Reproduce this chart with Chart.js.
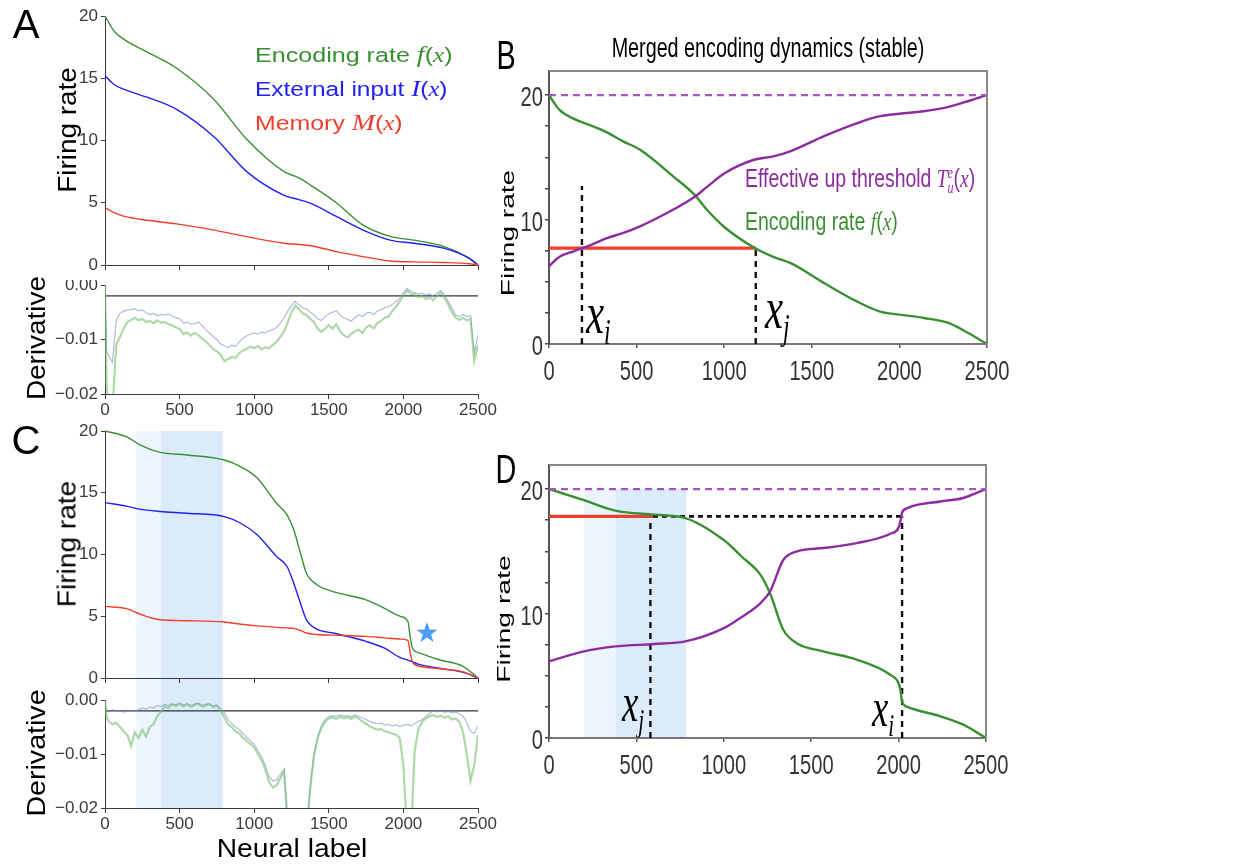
<!DOCTYPE html>
<html><head><meta charset="utf-8">
<script src="https://cdn.jsdelivr.net/npm/chart.js@4.4.1/dist/chart.umd.min.js"></script>
<style>
html,body{margin:0;padding:0;background:#fff;}
#wrap{position:relative;width:1257px;height:866px;overflow:hidden;font-family:"Liberation Sans",Arial,Helvetica,sans-serif;}
#wrap canvas{position:absolute;}
.t{position:absolute;white-space:nowrap;line-height:1;}
.m{font-family:"Liberation Serif","DejaVu Serif",serif;font-style:italic;}
</style></head>
<body><div id="wrap"></div>
<script>
// ---------------- DATA ----------------
const ticksX = [0, 500, 1000, 1500, 2000, 2500];

// Panel A (firing rates)
const aX      = [0, 60, 130, 300, 480, 730, 950, 1200, 1300, 1380, 1550, 1730, 1910, 2070, 2270, 2440, 2500];
const aEncode = [20, 18.8, 18.1, 17.0, 15.8, 13.3, 10.1, 7.5, 7.0, 6.4, 5.0, 3.2, 2.3, 2.0, 1.5, 0.55, 0];
const aInput  = [15.2, 14.5, 14.1, 13.4, 12.5, 10.3, 7.5, 5.6, 5.25, 4.95, 3.9, 2.8, 2.0, 1.75, 1.35, 0.55, 0];
const aMemory = [4.6, 4.2, 3.9, 3.57, 3.3, 2.8, 2.28, 1.75, 1.65, 1.55, 1.07, 0.67, 0.32, 0.25, 0.2, 0.1, 0];

// Derivative x positions
const dX = [0, 10, 25, 50, 75, 100, 125, 150, 175, 200, 225, 250, 275, 300, 325, 350, 375, 400, 425, 450, 475, 500,
  525, 550, 575, 600, 625, 650, 675, 700, 725, 750, 775, 800, 825, 850, 875, 900, 925, 950, 975, 1000,
  1025, 1050, 1075, 1100, 1125, 1150, 1175, 1200, 1225, 1250, 1275, 1300, 1325, 1350, 1375, 1400, 1425, 1450, 1475, 1500,
  1525, 1550, 1575, 1600, 1625, 1650, 1675, 1700, 1725, 1750, 1775, 1800, 1825, 1850, 1875, 1900, 1925, 1950, 1975, 2000,
  2025, 2050, 2075, 2100, 2125, 2150, 2175, 2200, 2225, 2250, 2275, 2300, 2325, 2350, 2375, 2400, 2425, 2450, 2475, 2500];
const aDerivInput = [0, -0.0120, -0.0130, -0.0142, -0.0065, -0.0052, -0.0048, -0.0046, -0.0045, -0.0044, -0.0047, -0.0046, -0.0051, -0.0054, -0.0052, -0.0056, -0.0054, -0.0055, -0.0053, -0.0057, -0.0060, -0.0062,
  -0.0070, -0.0068, -0.0072, -0.0071, -0.0068, -0.0074, -0.0082, -0.0088, -0.0095, -0.0100, -0.0108, -0.0112, -0.0115, -0.0110, -0.0113, -0.0104, -0.0098, -0.0093, -0.0090, -0.0088,
  -0.0090, -0.0086, -0.0088, -0.0084, -0.0082, -0.0078, -0.0070, -0.0060, -0.0048, -0.0038, -0.0030, -0.0036, -0.0042, -0.0044, -0.0050, -0.0054, -0.0062, -0.0065, -0.0058, -0.0053,
  -0.0050, -0.0047, -0.0055, -0.0060, -0.0063, -0.0066, -0.0060, -0.0055, -0.0058, -0.0052, -0.0050, -0.0054, -0.0048, -0.0045, -0.0042, -0.0040, -0.0036, -0.0030, -0.0024, -0.0015,
  -0.0006, -0.0012, -0.0014, -0.0017, -0.0015, -0.0019, -0.0016, -0.0020, -0.0014, -0.0010, -0.0018, -0.0030, -0.0042, -0.0055, -0.0058, -0.0054, -0.0058, -0.0056, -0.0125, -0.0092];
const aDerivEncode = [0, -0.0180, -0.0230, -0.0230, -0.0110, -0.0095, -0.0080, -0.0068, -0.0064, -0.0060, -0.0065, -0.0062, -0.0068, -0.0066, -0.0070, -0.0065, -0.0069, -0.0068, -0.0072, -0.0074, -0.0078, -0.0080,
  -0.0090, -0.0087, -0.0093, -0.0088, -0.0092, -0.0098, -0.0104, -0.0110, -0.0117, -0.0122, -0.0128, -0.0140, -0.0136, -0.0132, -0.0134, -0.0125, -0.0120, -0.0117, -0.0113, -0.0116,
  -0.0112, -0.0118, -0.0114, -0.0116, -0.0110, -0.0104, -0.0095, -0.0085, -0.0068, -0.0050, -0.0038, -0.0044, -0.0052, -0.0055, -0.0062, -0.0068, -0.0080, -0.0086, -0.0080, -0.0074,
  -0.0080, -0.0072, -0.0085, -0.0092, -0.0096, -0.0090, -0.0085, -0.0082, -0.0088, -0.0078, -0.0074, -0.0080, -0.0070, -0.0066, -0.0060, -0.0058, -0.0048, -0.0040, -0.0030, -0.0020,
  -0.0010, -0.0016, -0.0018, -0.0022, -0.0020, -0.0026, -0.0022, -0.0028, -0.0020, -0.0014, -0.0024, -0.0036, -0.0050, -0.0060, -0.0064, -0.0060, -0.0065, -0.0062, -0.0140, -0.0110];
const derivRef = -0.002;

// Panel C (firing rates)
const cX      = [0, 150, 230, 370, 550, 800, 910, 1020, 1150, 1220, 1265, 1310, 1350, 1420, 1530, 1750, 1870, 1980, 2030, 2045, 2060, 2110, 2240, 2400, 2500];
const cEncode = [20, 19.5, 18.9, 18.27, 18.06, 17.65, 17.1, 16.2, 14.15, 13.2, 12.0, 10.1, 8.5, 7.55, 7.0, 6.33, 5.66, 4.99, 4.58, 3.4, 2.45, 2.02, 1.48, 0.94, 0];
const cInput  = [14.2, 13.9, 13.67, 13.48, 13.34, 13.07, 12.53, 11.6, 9.84, 9.03, 7.68, 6.06, 4.72, 3.95, 3.64, 2.96, 2.43, 1.65, 1.45, 1.38, 1.3, 1.08, 0.8, 0.45, 0];
const cMemory = [5.8, 5.6, 5.2, 4.72, 4.64, 4.53, 4.35, 4.22, 4.1, 4.06, 4.02, 3.85, 3.64, 3.52, 3.47, 3.37, 3.25, 3.15, 3.05, 2.1, 1.3, 0.95, 0.75, 0.5, 0];
const cDerivInput = [-0.0005, -0.0020, -0.0022, -0.0018, -0.0021, -0.0020, -0.0023, -0.0019, -0.0021, -0.0020, -0.0018, -0.0015, -0.0017, -0.0013, -0.0015, -0.0010, -0.0012, -0.0008, -0.0010, -0.0007, -0.0009, -0.0006,
  -0.0009, -0.0007, -0.0010, -0.0008, -0.0006, -0.0010, -0.0008, -0.0007, -0.0011, -0.0009, -0.0016, -0.0024, -0.0036, -0.0044, -0.0050, -0.0055, -0.0062, -0.0070, -0.0076, -0.0082,
  -0.0094, -0.0105, -0.0122, -0.0142, -0.0150, -0.0148, -0.0138, -0.0128, -0.0230, -0.0350, -0.0450, -0.0450, -0.0350, -0.0250, -0.0160, -0.0100, -0.0068, -0.0048, -0.0037, -0.0031,
  -0.0029, -0.0030, -0.0028, -0.0030, -0.0029, -0.0031, -0.0028, -0.0030, -0.0033, -0.0036, -0.0040, -0.0042, -0.0044, -0.0043, -0.0046, -0.0045, -0.0048, -0.0046, -0.0049, -0.0047,
  -0.0045, -0.0048, -0.0044, -0.0040, -0.0036, -0.0031, -0.0025, -0.0020, -0.0022, -0.0019, -0.0023, -0.0021, -0.0024, -0.0022, -0.0026, -0.0030, -0.0042, -0.0058, -0.0062, -0.0048];
const cDerivEncode = [0, -0.0030, -0.0040, -0.0045, -0.0042, -0.0050, -0.0058, -0.0065, -0.0085, -0.0060, -0.0070, -0.0055, -0.0068, -0.0050, -0.0045, -0.0030, -0.0022, -0.0012, -0.0015, -0.0008, -0.0011, -0.0007,
  -0.0012, -0.0008, -0.0013, -0.0009, -0.0007, -0.0012, -0.0010, -0.0008, -0.0013, -0.0011, -0.0020, -0.0032, -0.0045, -0.0050, -0.0058, -0.0062, -0.0070, -0.0076, -0.0082, -0.0088,
  -0.0100, -0.0112, -0.0130, -0.0152, -0.0162, -0.0158, -0.0145, -0.0132, -0.0230, -0.0350, -0.0450, -0.0450, -0.0350, -0.0250, -0.0165, -0.0105, -0.0072, -0.0052, -0.0040, -0.0034,
  -0.0032, -0.0035, -0.0031, -0.0034, -0.0032, -0.0035, -0.0031, -0.0034, -0.0040, -0.0044, -0.0049, -0.0052, -0.0055, -0.0054, -0.0058, -0.0060, -0.0062, -0.0064, -0.0070, -0.0120,
  -0.0250, -0.0260, -0.0095, -0.0055, -0.0040, -0.0034, -0.0030, -0.0028, -0.0031, -0.0029, -0.0033, -0.0030, -0.0036, -0.0034, -0.0040, -0.0060, -0.0100, -0.0150, -0.0120, -0.0065];
const cBandsLight = [210, 375];
const cBandsDark  = [375, 790];
const starPoint   = [2158, 3.64];

// Panel B
const bX         = [0, 60, 140, 190, 230, 330, 420, 520, 710, 830, 900, 1000, 1170, 1280, 1380, 1570, 1760, 1890, 2000, 2140, 2280, 2390, 2500];
const bEncode    = [20, 18.8, 18.1, 17.8, 17.6, 17.0, 16.3, 15.6, 13.45, 12.0, 10.8, 9.4, 7.75, 7.0, 6.5, 4.9, 3.4, 2.6, 2.36, 2.09, 1.69, 0.9, 0];
const bThreshold = [6.24, 7.0, 7.45, 7.7, 7.9, 8.5, 8.9, 9.45, 10.8, 11.8, 12.6, 13.7, 14.8, 15.07, 15.5, 16.7, 17.75, 18.3, 18.5, 18.7, 19.05, 19.5, 20];
const bCeiling = 20;
const bLevel = 7.7;      // red line level
const bXi = 188, bXiTop = 12.7;
const bXj = 1180;

// Panel D
const dPX        = [0, 200, 380, 600, 780, 1000, 1100, 1210, 1265, 1340, 1420, 1570, 1760, 1950, 2000, 2010, 2020, 2050, 2240, 2370, 2500];
const dEncode    = [20, 19.1, 18.26, 17.94, 17.67, 15.9, 14.6, 13.1, 11.6, 8.7, 7.6, 6.96, 6.3, 5.1, 4.4, 3.9, 2.9, 2.5, 1.74, 1.07, 0];
const dThreshold = [6.16, 6.96, 7.36, 7.55, 7.76, 8.83, 9.7, 10.84, 11.78, 14.3, 15.0, 15.26, 15.66, 16.39, 16.9, 17.4, 18.1, 18.47, 19.0, 19.28, 20];
const dLevel = 17.8;
const dRedEnd = 595;
const dXj = 580, dXi = 2020;
const dBandsLight = [200, 380];
const dBandsDark  = [380, 785];

// ---------------- COLORS ----------------
const GREEN = '#3b8f33', BLUE = '#1f22f2', RED = '#ef3f2c', PURPLE = '#8c2c9e', PURPLE_D = '#a556bd';
const GREEN_L = 'rgba(120,190,110,0.6)', BLUE_L = 'rgba(120,140,205,0.6)';
const BAND_L = '#ecf5fe', BAND_D = '#dbebfc';
const AX = '#3a3a3a';

const wrap = document.getElementById('wrap');
const pts = (xs, ys) => xs.map((x, i) => ({x: x, y: ys[i]}));

function mk(box, area, datasets, xo, yo, plugins) {
  const c = document.createElement('canvas');
  c.width = box.w; c.height = box.h;
  c.style.left = box.l + 'px'; c.style.top = box.t + 'px';
  c.style.width = box.w + 'px'; c.style.height = box.h + 'px';
  wrap.appendChild(c);
  xo.afterFit = s => { s.height = box.t + box.h - area.b; s.paddingLeft = 0; s.paddingRight = 0; };
  yo.afterFit = s => { s.width = area.l - box.l; s.paddingTop = 0; s.paddingBottom = 0; };
  return new Chart(c.getContext('2d'), {
    type: 'line',
    data: {datasets: datasets},
    options: {
      responsive: false, animation: false, devicePixelRatio: 1,
      layout: {padding: {top: area.t - box.t, right: box.l + box.w - area.r, left: 0, bottom: 0}},
      plugins: {legend: {display: false}, tooltip: {enabled: false}},
      elements: {point: {radius: 0}},
      scales: {x: xo, y: yo}
    },
    plugins: plugins || []
  });
}

function line(xs, ys, color, width, extra) {
  return Object.assign({data: pts(xs, ys), borderColor: color, borderWidth: width, pointRadius: 0,
    cubicInterpolationMode: 'monotone', fill: false}, extra || {});
}
function seg(x1, y1, x2, y2, color, width, dash) {
  return {data: [{x: x1, y: y1}, {x: x2, y: y2}], borderColor: color, borderWidth: width, borderDash: dash || [],
    pointRadius: 0, fill: false, tension: 0, clip: false};
}

const smallFont = {family: '"Liberation Sans", Arial, sans-serif', size: 17};
const bigFont = {family: '"Liberation Sans", Arial, sans-serif', size: 28};
const minus = v => (v < 0 ? '\u2212' : '') + Math.abs(v).toFixed(2);

function leftX(labels) {
  return {type: 'linear', min: 0, max: 2500, afterBuildTicks: s => { s.ticks = ticksX.map(v => ({value: v})); },
    ticks: {display: true, font: smallFont, color: AX, padding: 1, maxRotation: 0, autoSkip: false,
      callback: v => labels ? String(v) : ''},
    grid: {drawOnChartArea: false, drawTicks: true, tickLength: 5, color: AX, lineWidth: 1},
    border: {color: AX, width: 1}};
}
function leftY(min, max, step, deriv) {
  return {type: 'linear', min: min, max: max,
    ticks: {stepSize: step, font: smallFont, color: AX, padding: 3, callback: v => deriv ? minus(v) : String(v)},
    grid: {drawOnChartArea: false, drawTicks: true, tickLength: 4, color: AX, lineWidth: 1},
    border: {color: AX, width: 1}};
}
// Right panels: tick labels are produced by Chart.js and re-painted condensed by the plugin below
function rightX() {
  return {type: 'linear', min: 0, max: 2500, afterBuildTicks: s => { s.ticks = ticksX.map(v => ({value: v})); },
    ticks: {font: bigFont, color: 'rgba(0,0,0,0)', padding: 4, maxRotation: 0, autoSkip: false, callback: v => String(v)},
    grid: {drawOnChartArea: false, drawTicks: true, tickLength: 4, color: '#555', lineWidth: 1.5},
    border: {color: '#777', width: 2}};
}
function rightY() {
  return {type: 'linear', min: 0, max: 21.93,
    afterBuildTicks: s => { const t = []; for (let v = 0; v <= 20; v += 2.5) t.push({value: v}); s.ticks = t; },
    ticks: {font: bigFont, color: 'rgba(0,0,0,0)', padding: 2, autoSkip: false, callback: v => (v % 10 === 0 ? String(v) : '')},
    grid: {drawOnChartArea: false, drawTicks: true, tickLength: 4, color: '#444', lineWidth: 1.5},
    border: {color: '#555', width: 2}};
}
const condensedTicks = {id: 'condensedTicks', afterDraw(ch) {
  const ctx = ch.ctx, a = ch.chartArea, xs = ch.scales.x, ys = ch.scales.y, SX = 0.72;
  ctx.save();
  ctx.fillStyle = '#333';
  ctx.font = '28px "Liberation Sans", Arial, sans-serif';
  ctx.textBaseline = 'alphabetic';
  xs.ticks.forEach(t => {
    const lbl = t.label == null ? '' : String(t.label);
    if (!lbl) return;
    ctx.save(); ctx.translate(xs.getPixelForValue(t.value), a.bottom + 36); ctx.scale(SX, 1);
    ctx.textAlign = 'center'; ctx.fillText(lbl, 0, 0); ctx.restore();
  });
  ys.ticks.forEach(t => {
    const lbl = t.label == null ? '' : String(t.label);
    if (!lbl) return;
    ctx.save(); ctx.translate(a.left - 6, ys.getPixelForValue(t.value) + 11); ctx.scale(SX, 1);
    ctx.textAlign = 'right'; ctx.fillText(lbl, 0, 0); ctx.restore();
  });
  ctx.restore();
}};

const framePlugin = {id: 'frame', afterDraw(ch) {
  const a = ch.chartArea, ctx = ch.ctx;
  ctx.save(); ctx.strokeStyle = '#888'; ctx.lineWidth = 2;
  ctx.beginPath(); ctx.moveTo(a.left, a.top); ctx.lineTo(a.right, a.top); ctx.lineTo(a.right, a.bottom); ctx.stroke();
  ctx.restore();
}};
function bandPlugin(light, dark, yTop, yBottom) {
  return {id: 'bands', beforeDraw(ch) {
    const xs = ch.scales.x, ys = ch.scales.y, ctx = ch.ctx;
    const top = yTop === null ? 0 : ys.getPixelForValue(yTop);
    const bot = yBottom === null ? ch.height : ys.getPixelForValue(yBottom);
    ctx.save();
    ctx.fillStyle = BAND_L;
    ctx.fillRect(xs.getPixelForValue(light[0]), top, xs.getPixelForValue(light[1]) - xs.getPixelForValue(light[0]), bot - top);
    ctx.fillStyle = BAND_D;
    ctx.fillRect(xs.getPixelForValue(dark[0]), top, xs.getPixelForValue(dark[1]) - xs.getPixelForValue(dark[0]), bot - top);
    ctx.restore();
  }};
}
const starPlugin = {id: 'star', afterDatasetsDraw(ch) {
  const cx = ch.scales.x.getPixelForValue(starPoint[0]), cy = ch.scales.y.getPixelForValue(starPoint[1]);
  const ctx = ch.ctx, R = 11, r = 4.4;
  ctx.save(); ctx.fillStyle = '#4a9df0'; ctx.beginPath();
  for (let i = 0; i < 10; i++) {
    const ang = -Math.PI / 2 + i * Math.PI / 5, rad = i % 2 ? r : R;
    ctx.lineTo(cx + rad * Math.cos(ang), cy + rad * Math.sin(ang));
  }
  ctx.closePath(); ctx.fill(); ctx.restore();
}};

// ---------------- PANEL A ----------------
mk({l: 0, t: 0, w: 490, h: 280}, {l: 105, t: 16, r: 478, b: 265}, [
  line(aX, aMemory, RED, 1.4, {clip: false}),
  line(aX, aInput, BLUE, 1.4, {clip: false}),
  line(aX, aEncode, GREEN, 1.4, {clip: false})
], leftX(false), leftY(0, 20, 5, false));

mk({l: 0, t: 280, w: 510, h: 140}, {l: 105, t: 285, r: 478, b: 394}, [
  line(dX, aDerivEncode, GREEN_L, 2.2, {cubicInterpolationMode: 'default', tension: 0}),
  line(dX, aDerivInput, BLUE_L, 1.2, {cubicInterpolationMode: 'default', tension: 0}),
  seg(0, derivRef, 2500, derivRef, '#333', 1.3)
], leftX(true), leftY(-0.02, 0, 0.01, true));

// ---------------- PANEL C ----------------
mk({l: 0, t: 420, w: 490, h: 270}, {l: 105, t: 431, r: 478, b: 678}, [
  line(cX, cMemory, RED, 1.4, {clip: false}),
  line(cX, cInput, BLUE, 1.4, {clip: false}),
  line(cX, cEncode, GREEN, 1.4, {clip: false})
], leftX(false), leftY(0, 20, 5, false), [bandPlugin(cBandsLight, cBandsDark, 20, null), starPlugin]);

mk({l: 0, t: 690, w: 510, h: 176}, {l: 105, t: 700, r: 478, b: 808}, [
  line(dX, cDerivEncode, GREEN_L, 2.2, {cubicInterpolationMode: 'default', tension: 0}),
  line(dX, cDerivInput, BLUE_L, 1.2, {cubicInterpolationMode: 'default', tension: 0}),
  seg(0, derivRef, 2500, derivRef, '#333', 1.3)
], leftX(true), leftY(-0.02, 0, 0.01, true), [bandPlugin(cBandsLight, cBandsDark, null, -0.02)]);

// ---------------- PANEL B ----------------
mk({l: 510, t: 0, w: 747, h: 430}, {l: 549, t: 71, r: 987, b: 344}, [
  seg(0, bCeiling, 2500, bCeiling, PURPLE_D, 2.2, [7, 5]),
  line(bX, bThreshold, PURPLE, 2.4),
  line(bX, bEncode, GREEN, 2.4),
  seg(0, bLevel, bXj, bLevel, RED, 3.2),
  seg(bXi, 0, bXi, bXiTop, '#111', 2.4, [6, 5]),
  seg(bXj, 0, bXj, bLevel, '#111', 2.4, [6, 5])
], rightX(), rightY(), [framePlugin, condensedTicks]);

// ---------------- PANEL D ----------------
mk({l: 510, t: 430, w: 747, h: 436}, {l: 549, t: 465, r: 986, b: 738}, [
  seg(0, bCeiling, 2500, bCeiling, PURPLE_D, 2.2, [7, 5]),
  line(dPX, dThreshold, PURPLE, 2.4),
  line(dPX, dEncode, GREEN, 2.4),
  seg(0, dLevel, dRedEnd, dLevel, RED, 3.2),
  seg(dRedEnd, dLevel, dXi, dLevel, '#111', 2.6, [5, 4]),
  seg(dXj, 0, dXj, dLevel, '#111', 2.4, [6, 5]),
  seg(dXi, 0, dXi, dLevel, '#111', 2.4, [6, 5])
], rightX(), rightY(), [framePlugin, bandPlugin(dBandsLight, dBandsDark, 20, 0), condensedTicks]);

// ---------------- TEXT ----------------
function txt(html, x, y, size, color, opt) {
  opt = opt || {};
  const d = document.createElement('div');
  d.className = 't'; d.innerHTML = html;
  d.style.fontSize = size + 'px'; d.style.color = color;
  wrap.appendChild(d);
  const w = d.offsetWidth;
  const s = opt.w ? opt.w / w : (opt.sx || 1);
  const sy = opt.sy || 1;
  d.style.left = x + 'px'; d.style.top = y + 'px';
  if (opt.rot) {
    d.style.transform = 'translate(-50%,-50%) rotate(-90deg) scale(' + s + ',' + sy + ')';
  } else if (opt.left) {
    d.style.transformOrigin = '0 50%';
    d.style.transform = 'translateY(-50%) scale(' + s + ',' + sy + ')';
  } else {
    d.style.transform = 'translate(-50%,-50%) scale(' + s + ',' + sy + ')';
  }
  return d;
}
txt('A', 26, 24, 40, '#000');
txt('C', 26, 440, 40, '#000');
txt('B', 506, 55, 40, '#000', {sx: 0.72});
txt('D', 506, 469, 40, '#000', {sx: 0.72});
txt('Merged encoding dynamics (stable)', 768, 48, 28, '#000', {w: 313});

txt('Firing rate', 67, 130, 25, '#000', {rot: true, w: 126});
txt('Derivative', 36, 338, 25, '#000', {rot: true, w: 124});
txt('Firing rate', 67, 544, 25, '#000', {rot: true, w: 127});
txt('Derivative', 36, 753, 25, '#000', {rot: true, w: 127});
txt('Neural label', 292, 848, 26, '#000', {w: 151});
txt('Firing rate', 508, 233, 25, '#000', {rot: true, w: 127, sy: 0.7});
txt('Firing rate', 504, 619, 25, '#000', {rot: true, w: 128, sy: 0.7});

txt('Encoding rate <span class="m" style="font-size:1.12em">f</span>(<span class="m">x</span>)', 255, 55, 20, GREEN, {left: true, w: 197});
txt('External input <span class="m" style="font-size:1.12em">I</span>(<span class="m">x</span>)', 255, 89, 20, BLUE, {left: true, w: 193});
txt('Memory <span class="m" style="font-size:1.12em">M</span>(<span class="m">x</span>)', 255, 123, 20, RED, {left: true, w: 148});

txt('Effective up threshold <span class="m">T</span><span style="display:inline-block;vertical-align:-0.35em;font-size:0.62em;line-height:0.95;text-align:left"><span class="m">e</span><br><span class="m">u</span></span>(<span class="m">x</span>)', 745, 180, 26, PURPLE, {left: true, w: 230});
txt('Encoding rate <span class="m">f</span>(<span class="m">x</span>)', 745, 221, 26, GREEN, {left: true, w: 153});

const xl = (sub) => '<span class="m">x</span><span class="m" style="position:relative;top:0.32em;font-size:0.58em">' + sub + '</span>';
txt(xl('i'), 586, 313, 60, '#000', {left: true, sx: 0.68});
txt(xl('j'), 765, 308, 60, '#000', {left: true, sx: 0.68});
txt(xl('j'), 622, 702, 54, '#000', {left: true, sx: 0.68});
txt(xl('i'), 872, 707, 54, '#000', {left: true, sx: 0.68});
</script>
</body></html>
